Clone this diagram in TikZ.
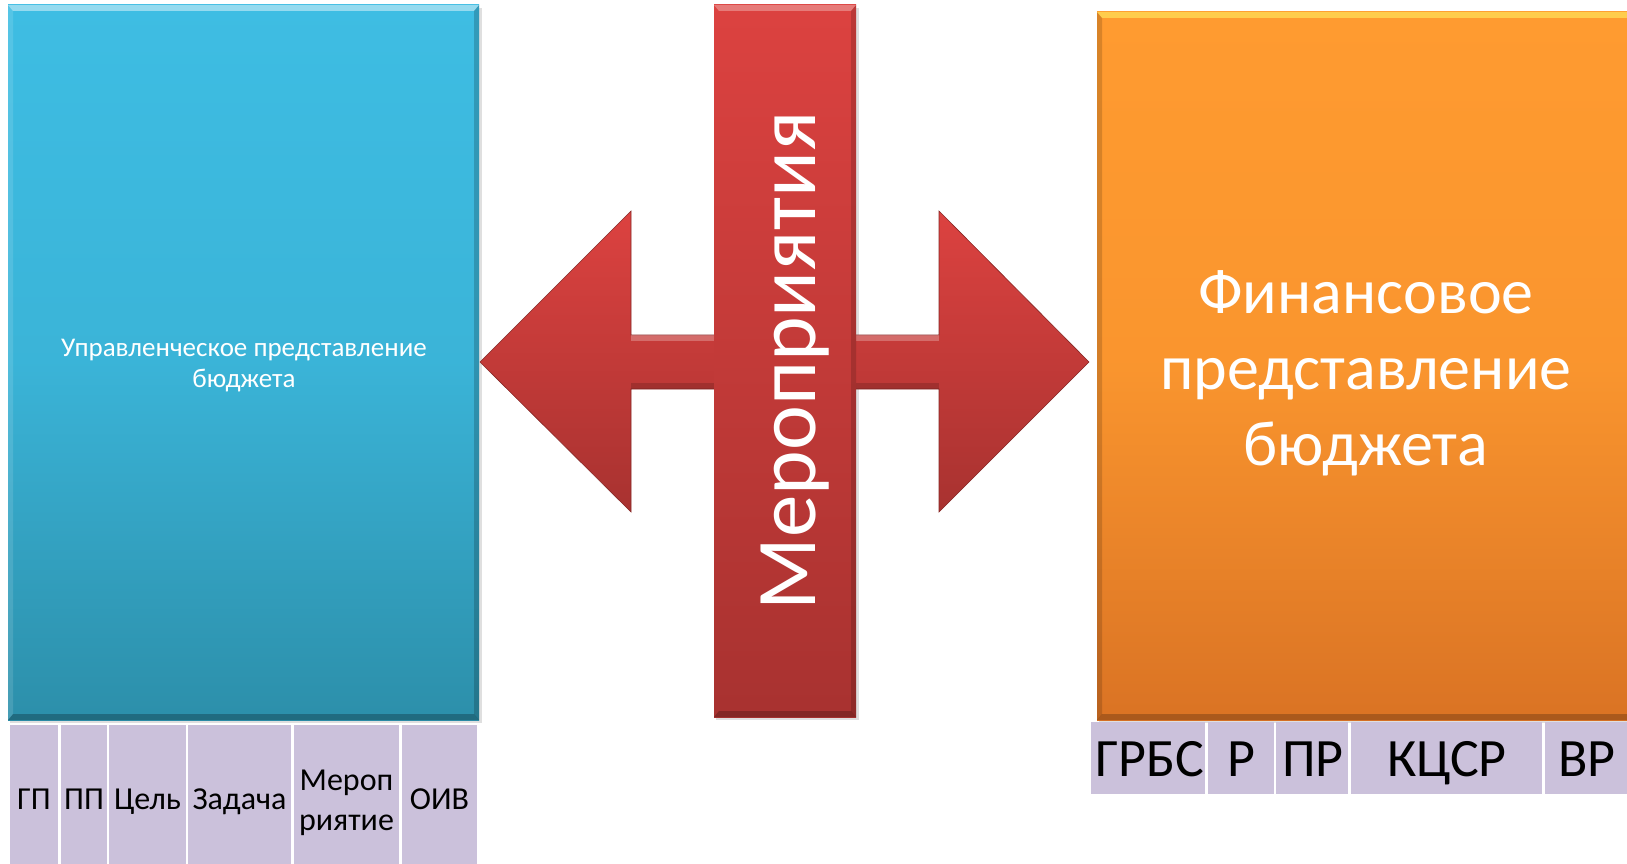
\documentclass[tikz,border=0pt]{standalone}
\usepackage{fontspec}
\setmainfont{Carlito}
\definecolor{bluetop}{RGB}{62,189,227}
\definecolor{bluebot}{RGB}{44,143,170}
\definecolor{orgtop}{RGB}{255,155,48}
\definecolor{orgbot}{RGB}{218,115,36}
\definecolor{redtop}{RGB}{220,66,64}
\definecolor{redbot}{RGB}{168,50,48}
\definecolor{cellc}{RGB}{203,193,219}
\tikzset{
  cell/.style={fill=cellc, draw=none, inner sep=0pt},
  lcell/.style={cell, minimum height=139pt},
  rcell/.style={cell, minimum height=72pt},
  ltext/.style={text=black, inner sep=0pt, align=center, font=\fontsize{32}{40}\selectfont},
  rtext/.style={text=black, inner sep=0pt, anchor=base, font=\fontsize{54}{60}\selectfont},
  shadow/.style={fill=black!35, opacity=0.35},
}
\begin{document}
\begin{tikzpicture}[x=1pt,y=-1pt]
\useasboundingbox (0,0) rectangle (1627,864);
\fill[white] (0,0) rectangle (1627,864);
\clip (0,0) rectangle (1627,864);
% shadows
\fill[shadow] (10,8) rectangle (482,723);
\fill[shadow] (1099,15) rectangle (1640,723);
\fill[shadow] (716,8) rectangle (859,720);
% blue box
\shade[top color=bluetop, bottom color=bluebot, middle color=bluetop!80!bluebot] (8,5) rectangle (479,720);
\fill[white, opacity=0.45] (8,5) -- (479,5) -- (474,11) -- (13,11) -- cycle;
\fill[black, opacity=0.18] (479,5) -- (479,720) -- (474,714) -- (474,11) -- cycle;
\fill[black, opacity=0.25] (8,720) -- (479,720) -- (474,714) -- (13,714) -- cycle;
\fill[white, opacity=0.12] (8,5) -- (13,11) -- (13,714) -- (8,720) -- cycle;
\node[text=white, align=center, font=\fontsize{27}{31}\selectfont] (mgmt) at (244,366) {Управленческое представление\\бюджета};
% orange box
\shade[top color=orgtop, bottom color=orgbot, middle color=orgtop!85!orgbot] (1097,12) rectangle (1640,720);
\fill[yellow!60!white, opacity=0.55] (1097,12) -- (1640,12) -- (1640,18) -- (1102,18) -- cycle;
\fill[black, opacity=0.22] (1097,720) -- (1640,720) -- (1640,714) -- (1102,714) -- cycle;
\fill[black, opacity=0.15] (1097,12) -- (1102,18) -- (1102,714) -- (1097,720) -- cycle;
\node[text=white, align=center, font=\fontsize{64}{76}\selectfont] (fin) at (1366,373) {Финансовое\\представление\\бюджета};
% double arrow
\path[top color=redtop, bottom color=redbot, draw=redbot!80!black, line width=0.6pt]
  (480,362) -- (631,211) -- (631,335) -- (939,335) -- (939,211) -- (1089,362)
  -- (939,512) -- (939,389) -- (631,389) -- (631,512) -- cycle;
\fill[white, opacity=0.25] (631,335) -- (939,335) -- (939,341) -- (631,341) -- cycle;
\fill[black, opacity=0.15] (631,383) -- (939,383) -- (939,389) -- (631,389) -- cycle;
% vertical bar
\shade[top color=redtop, bottom color=redbot] (714,5) rectangle (856,717);
\fill[white, opacity=0.3] (714,5) -- (856,5) -- (851,11) -- (719,11) -- cycle;
\fill[black, opacity=0.22] (714,717) -- (856,717) -- (851,711) -- (719,711) -- cycle;
\fill[black, opacity=0.15] (856,5) -- (856,717) -- (851,711) -- (851,11) -- cycle;
\node[text=white, rotate=90, font=\fontsize{85}{90}\selectfont] (mer) at (795,361) {Мероприятия};
% left cells
\node[lcell, minimum width=48pt] (c1) at (34,794.5) {};
\node[lcell, minimum width=46pt] (c2) at (84,794.5) {};
\node[lcell, minimum width=77pt] (c3) at (147.5,794.5) {};
\node[lcell, minimum width=103pt] (c4) at (239.5,794.5) {};
\node[lcell, minimum width=105pt] (c5) at (346.5,794.5) {};
\node[lcell, minimum width=75pt] (c6) at (439.5,794.5) {};
\node[ltext, anchor=base] (t1) at (34,809) {ГП};
\node[ltext, anchor=base] (t2) at (84,809) {ПП};
\node[ltext, anchor=base] (t3) at (147.5,809) {Цель};
\node[ltext, anchor=base] (t4) at (239.5,809) {Задача};
\node[ltext] (t5) at (346.5,803) {Мероп\\риятие};
\node[ltext, anchor=base] (t6) at (439.5,809) {ОИВ};
% right cells
\node[rcell, minimum width=114pt] (r1) at (1148,758) {};
\node[rcell, minimum width=66pt] (r2) at (1241,758) {};
\node[rcell, minimum width=72pt] (r3) at (1312,758) {};
\node[rcell, minimum width=191pt] (r4) at (1446.5,758) {};
\node[rcell, minimum width=95pt] (r5) at (1592.5,758) {};
\node[rtext] (s1) at (1150,776) {ГРБС};
\node[rtext] (s2) at (1241,776) {Р};
\node[rtext] (s3) at (1313,776) {ПР};
\node[rtext] (s4) at (1447,776) {КЦСР};
\node[rtext] (s5) at (1587,776) {ВР};
\end{tikzpicture}
\end{document}
